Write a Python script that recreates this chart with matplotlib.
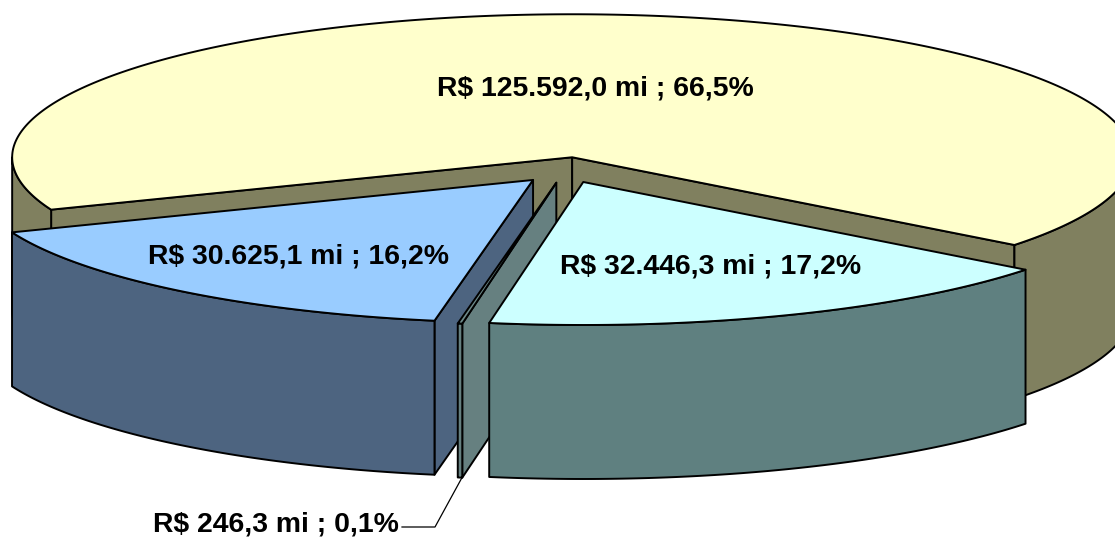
import numpy as np
import matplotlib.pyplot as plt
from matplotlib.patches import Polygon

plt.rcParams['font.family'] = ['Liberation Sans', 'DejaVu Sans']

# data
labels = ["R$ 125.592,0 mi ; 66,5%", "R$ 32.446,3 mi ; 17,2%",
          "R$ 246,3 mi ; 0,1%", "R$ 30.625,1 mi ; 16,2%"]
values = [125592.0, 32446.3, 246.3, 30625.1]
top_colors = ["#FFFFCC", "#CCFFFF", "#6E8A8A", "#99CCFF"]
side_colors = ["#80805F", "#5F8080", "#668080", "#4D6480"]

# geometry of the 3d pie (pixels, y down)
cx, cy = 565, 170
rx, ry = 560, 143
depth = 154
explode = 0.09
start = 158.5
draw_order = [0, 3, 2, 1]
label_pos = [(595, 89), (711, 267), None, (298, 257)]


def rim(ax0, ay0, t, dz=0):
    t = np.radians(t)
    return np.column_stack([ax0 + rx * np.cos(t), ay0 + ry * np.sin(t) + dz])


def poly(ax, pts, color):
    ax.add_patch(Polygon(pts, closed=True, facecolor=color, edgecolor="black",
                         lw=1.4, joinstyle="round"))


fig = plt.figure(figsize=(11.15, 5.42), dpi=100)
ax = fig.add_axes([0, 0, 1, 1])
ax.set_xlim(0, 1115)
ax.set_ylim(542, 0)
ax.axis("off")

total = sum(values)
angles = []
a = start
for v in values:
    span = v / total * 360
    angles.append((a, a + span))
    a += span

apexes = []
for t1, t2 in angles:
    mid = np.radians((t1 + t2) / 2)
    apexes.append((cx + explode * rx * np.cos(mid), cy + explode * ry * np.sin(mid)))

for i in draw_order:
    t1, t2 = angles[i]
    px, py = apexes[i]
    apex = np.array([[px, py]])
    apex_b = np.array([[px, py + depth]])
    # radial faces that face the viewer
    if np.cos(np.radians(t1)) < 0:
        r = rim(px, py, [t1])
        poly(ax, np.vstack([apex, r, r + [0, depth], apex_b]), side_colors[i])
    if np.cos(np.radians(t2)) > 0:
        r = rim(px, py, [t2])
        poly(ax, np.vstack([apex, r, r + [0, depth], apex_b]), side_colors[i])
    # outer side, only the front part (0..180 deg)
    for k in range(0, 3):
        lo = max(t1, 360 * k)
        hi = min(t2, 360 * k + 180)
        if hi > lo:
            ts = np.linspace(lo, hi, 200)
            top = rim(px, py, ts)
            bot = rim(px, py, ts[::-1], depth)
            poly(ax, np.vstack([top, bot]), side_colors[i])
    # top
    ts = np.linspace(t1, t2, 400)
    poly(ax, np.vstack([apex, rim(px, py, ts)]), top_colors[i])

for i, lab in enumerate(labels):
    if label_pos[i] is not None:
        ax.text(label_pos[i][0], label_pos[i][1], lab, ha="center", va="center",
                fontsize=20.4, fontweight="bold", color="black")

# small slice label with leader line
t1, t2 = angles[2]
end = rim(apexes[2][0], apexes[2][1], [(t1 + t2) / 2], depth)[0]
ax.plot([402, 435, end[0] + 2], [527, 527, end[1]], color="black", lw=0.9)
ax.text(399, 525, labels[2], ha="right", va="center",
        fontsize=20.4, fontweight="bold", color="black")

plt.savefig("out.png", dpi=100)
plt.close()
